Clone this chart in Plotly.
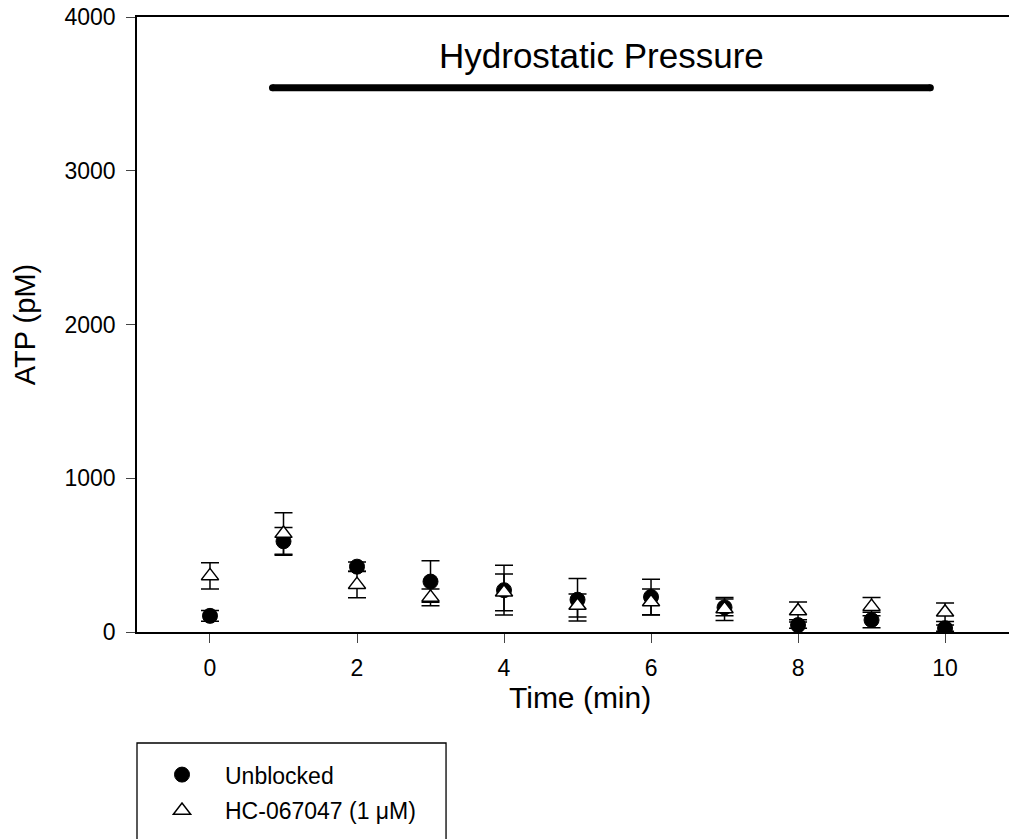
import plotly.graph_objects as go

# ---- data ----
time_min = [0, 1, 2, 3, 4, 5, 6, 7, 8, 9, 10]
unblocked = [105, 590, 425, 328, 272, 210, 228, 160, 45, 78, 25]
unblocked_err = [35, 90, 30, 135, 162, 138, 115, 55, 20, 50, 20]
hc = [365, 640, 308, 225, 258, 172, 195, 150, 137, 165, 128]
hc_err = [85, 135, 85, 55, 120, 75, 85, 75, 58, 60, 60]

series_names = ["Unblocked", "HC-067047 (1 \u03bcM)"]
x_ticks = [0, 2, 4, 6, 8, 10]
y_ticks = [0, 1000, 2000, 3000, 4000]
x_title = "Time (min)"
y_title = "ATP (pM)"

pressure_span = [0.85, 9.8]
pressure_level = 3540
pressure_label = "Hydrostatic Pressure"
pressure_label_pos = [5.32, 3750]

FONT = "Liberation Sans, Arial, sans-serif"

fig = go.Figure()

fig.add_trace(go.Scatter(
    x=time_min, y=unblocked, mode="markers", name=series_names[0], legendgroup="a",
    marker=dict(symbol="circle", size=15, color="black", line=dict(color="black", width=1)),
    error_y=dict(type="data", array=unblocked_err, visible=True, color="black", thickness=1.5, width=9),
))
fig.add_trace(go.Scatter(
    x=time_min, y=hc, mode="markers", name=series_names[1], legendgroup="b",
    marker=dict(symbol="triangle-up", size=15, color="white", line=dict(color="black", width=1.5)),
    error_y=dict(type="data", array=hc_err, visible=True, color="black", thickness=1.5, width=9),
))

# pressure bar
fig.add_trace(go.Scatter(
    x=pressure_span, y=[pressure_level, pressure_level], mode="lines+markers",
    line=dict(color="black", width=7), marker=dict(size=7, color="black"),
    showlegend=False, hoverinfo="skip",
))
fig.add_annotation(x=pressure_label_pos[0], y=pressure_label_pos[1], text=pressure_label,
                   showarrow=False, font=dict(family=FONT, size=35, color="black"))

# x-axis title placed below the tick labels
fig.add_annotation(x=0.508, y=-0.106, xref="paper", yref="paper", text=x_title,
                   showarrow=False, xanchor="center", yanchor="middle",
                   font=dict(family=FONT, size=30, color="black"))

# legend frame
fig.add_shape(type="rect", xref="paper", yref="paper", x0=0, x1=0.3544, y0=-0.1805, y1=-0.45,
              line=dict(color="black", width=1.3), fillcolor="rgba(0,0,0,0)")

fig.update_layout(
    width=1009, height=839,
    margin=dict(l=137, r=0, t=17, b=207),
    paper_bgcolor="white", plot_bgcolor="white",
    font=dict(family=FONT, color="black", size=22),
    showlegend=True,
    legend=dict(x=0.0023, y=-0.197, xanchor="left", yanchor="top", bgcolor="rgba(0,0,0,0)",
                borderwidth=0, font=dict(size=23, family=FONT), itemwidth=76, tracegroupgap=3),
    xaxis=dict(range=[-0.993, 10.87], tickvals=x_ticks, ticks="outside", ticklen=9, tickwidth=1.3,
               showline=True, linecolor="black", linewidth=1.5, mirror=True, showgrid=False, zeroline=False,
               ticklabelstandoff=6, tickfont=dict(size=23)),
    yaxis=dict(range=[0, 4000], tickvals=y_ticks, ticks="outside", ticklen=9, tickwidth=1.3,
               showline=True, linecolor="black", linewidth=1.5, showgrid=False, zeroline=False,
               ticklabelstandoff=6,
               title=dict(text=y_title, font=dict(size=29), standoff=20),
               tickfont=dict(size=23)),
)

fig.write_html("out.html")
